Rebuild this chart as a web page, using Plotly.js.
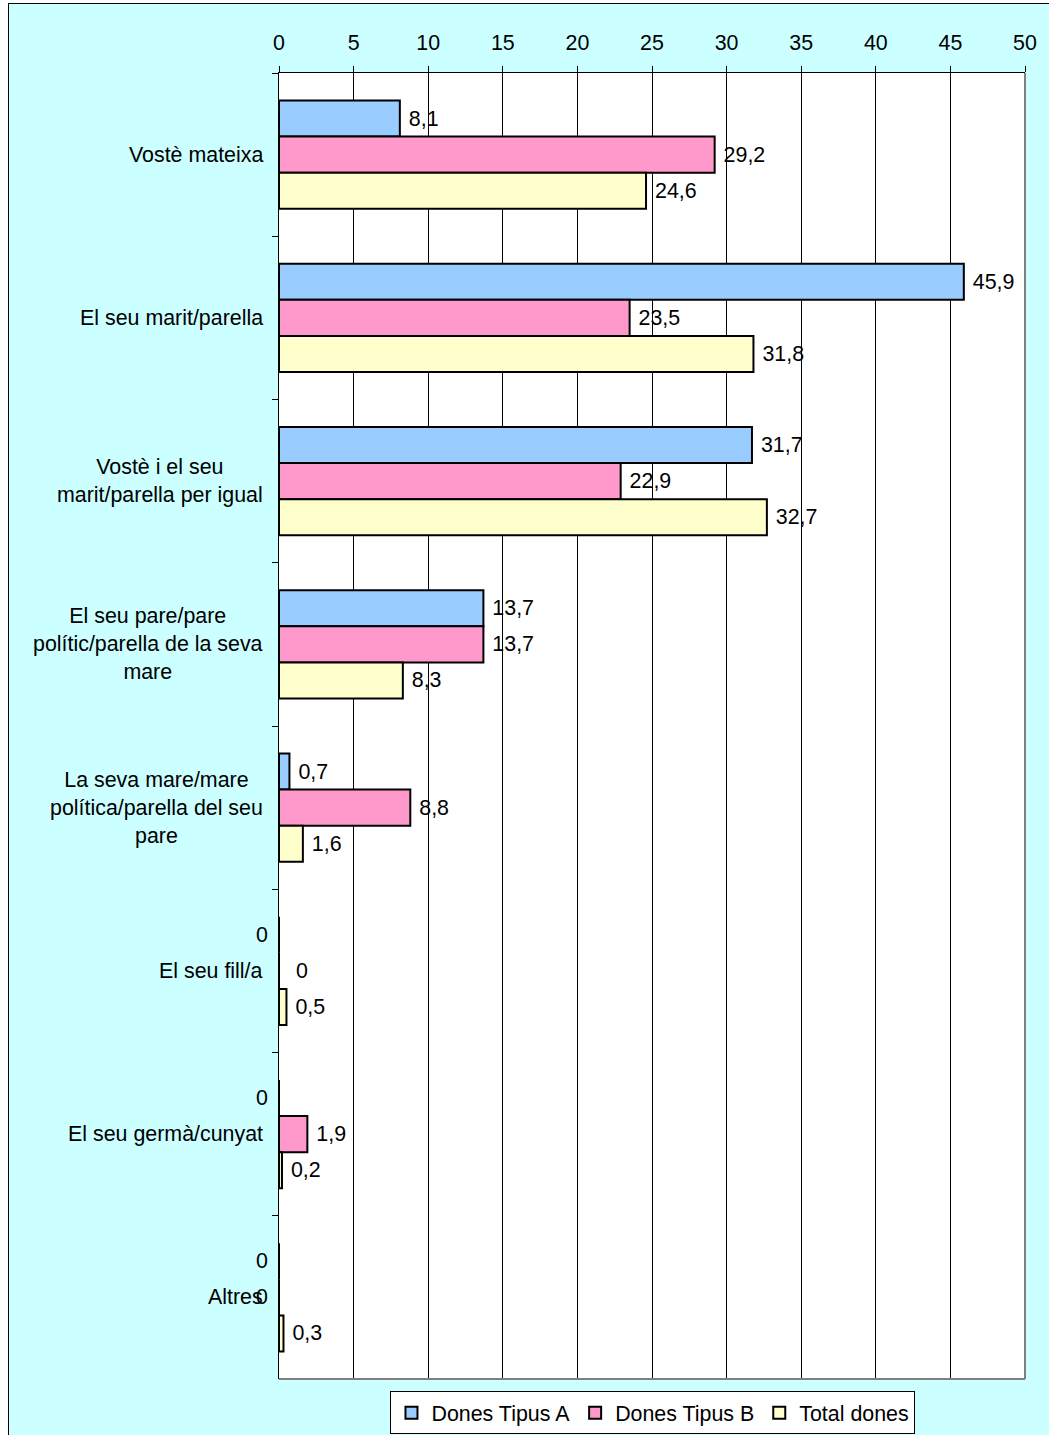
<!DOCTYPE html>
<html>
<head>
<meta charset="utf-8">
<script src="https://cdn.plot.ly/plotly-3.0.1.min.js"></script>
<style>
  html, body { margin: 0; padding: 0; background: #ffffff; width: 1049px; height: 1435px; overflow: hidden; }
  #frame { position: absolute; left: 8px; top: 3px; border-left: 1px solid #000; border-top: 1px solid #000; }
  #chart { width: 1040px; height: 1431px; }
</style>
</head>
<body>
<div id="frame"><div id="chart"></div></div>
<script>
// ---- Data ----
const categories = [
  "Vostè mateixa",
  "El seu marit/parella",
  "Vostè i el seu<br>marit/parella per igual",
  "El seu pare/pare<br>polític/parella de la seva<br>mare",
  "La seva mare/mare<br>política/parella del seu<br>pare",
  "El seu fill/a",
  "El seu germà/cunyat",
  "Altres"
];
const seriesNames = ["Dones Tipus A", "Dones Tipus B", "Total dones"];
const tipusA = [8.1, 45.9, 31.7, 13.7, 0.7, 0, 0, 0];
const tipusB = [29.2, 23.5, 22.9, 13.7, 8.8, 0, 1.9, 0];
const totalDones = [24.6, 31.8, 32.7, 8.3, 1.6, 0.5, 0.2, 0.3];
const xTicks = [0, 5, 10, 15, 20, 25, 30, 35, 40, 45, 50];

// ---- Styling ----
const colors = ["#99CCFF", "#FF99CC", "#FFFFCC"];
const FONT = "Arial, 'Liberation Sans', sans-serif";
const FS = 21.4;
const W = 1040, H = 1431;
const margin = { l: 270, r: 24, t: 69, b: 56 };
const bargap = 0.337;

const fmt = v => v === 0 ? "" : "\u00A0" + v.toFixed(1).replace(".", ",");
const allSeries = [tipusA, tipusB, totalDones];

const traces = allSeries.map((vals, i) => ({
  type: "bar",
  orientation: "h",
  name: seriesNames[i],
  y: categories,
  x: vals,
  text: vals.map(fmt),
  textposition: "outside",
  constraintext: "none",
  cliponaxis: false,
  textfont: { family: FONT, size: FS, color: "#000" },
  marker: { color: colors[i], line: { color: "#000", width: 2 } },
  hoverinfo: "none"
}));

// Geometry for label placement (pixels)
const plotH = H - margin.t - margin.b;
const barPx = plotH / categories.length * (1 - bargap) / allSeries.length;

// Category labels (centered multi-line) as annotations
const annotations = categories.map(c => ({
  xref: "paper", yref: "y", x: 0, y: c,
  xanchor: "right", yanchor: "middle", xshift: -14,
  text: c, align: "center", showarrow: false,
  font: { family: FONT, size: FS, color: "#000" }
}));

// Zero-value labels
const zeroSide = [
  ["left", "left", "left", "left", "left", "left", "left", "left"],
  ["left", "left", "left", "left", "left", "right", "left", "left"],
  ["right", "right", "right", "right", "right", "right", "right", "right"]
];
allSeries.forEach((vals, si) => {
  vals.forEach((v, ci) => {
    if (v === 0) {
      const left = zeroSide[si][ci] === "left";
      annotations.push({
        xref: "x", yref: "y", x: 0, y: categories[ci],
        xanchor: left ? "right" : "left", yanchor: "middle",
        xshift: left ? -9 : 15,
        yshift: (1 - si) * barPx,
        text: "0", showarrow: false,
        font: { family: FONT, size: FS, color: "#000" }
      });
    }
  });
});

const layout = {
  width: W, height: H,
  margin: margin,
  paper_bgcolor: "#CCFFFF",
  plot_bgcolor: "#FFFFFF",
  font: { family: FONT, size: FS, color: "#000" },
  barmode: "group",
  bargap: bargap,
  bargroupgap: 0,
  showlegend: true,
  legend: {
    orientation: "h",
    xref: "paper", x: 0.5013, xanchor: "center",
    yref: "container", y: 0.0005, yanchor: "bottom",
    bgcolor: "#FFFFFF", bordercolor: "#000", borderwidth: 1,
    font: { family: FONT, size: FS, color: "#000" },
    itemclick: false, itemdoubleclick: false,
    traceorder: "normal"
  },
  xaxis: {
    side: "top",
    range: [0, 50],
    tickvals: xTicks,
    ticktext: xTicks.map(String),
    ticks: "outside", ticklen: 6, tickcolor: "#000", tickwidth: 1,
    ticklabelstandoff: 7,
    showline: true, linecolor: "#000", linewidth: 1,
    showgrid: true, gridcolor: "#000", gridwidth: 1,
    zeroline: false,
    tickfont: { family: FONT, size: FS, color: "#000" },
    fixedrange: true
  },
  yaxis: {
    type: "category",
    autorange: "reversed",
    showticklabels: false,
    ticks: "outside", tickson: "boundaries", ticklen: 6, tickcolor: "#000", tickwidth: 1,
    showline: true, linecolor: "#000", linewidth: 1,
    showgrid: false, zeroline: false,
    fixedrange: true
  },
  shapes: [
    { type: "line", xref: "paper", yref: "paper", x0: 1, x1: 1, y0: 0, y1: 1,
      line: { color: "#808080", width: 2 }, layer: "above" },
    { type: "line", xref: "paper", yref: "paper", x0: 0, x1: 1, y0: 0, y1: 0,
      line: { color: "#808080", width: 2 }, layer: "above" }
  ],
  annotations: annotations
};

Plotly.newPlot("chart", traces, layout, { displayModeBar: false, staticPlot: true });
</script>
</body>
</html>
